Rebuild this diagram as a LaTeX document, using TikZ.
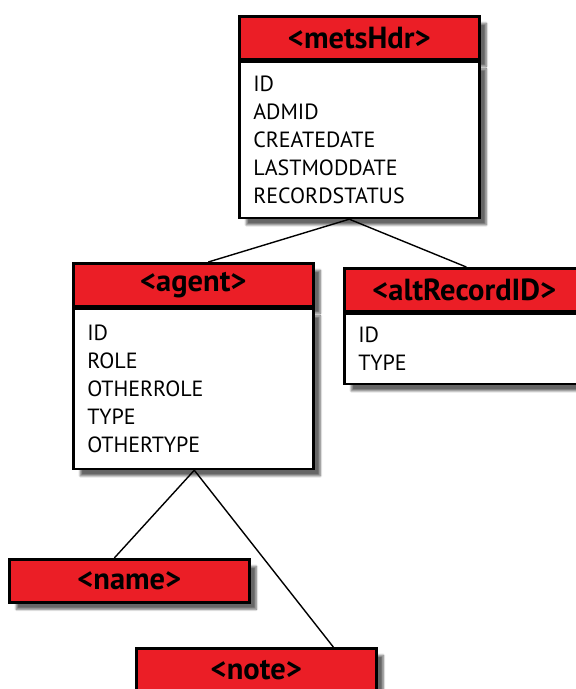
\documentclass[tikz,border=0pt]{standalone}
\usepackage{fontspec}
\setmainfont{PT Sans}
\usetikzlibrary{positioning, shadows.blur}
\definecolor{hdrred}{RGB}{235,30,38}

\begin{document}
\begin{tikzpicture}[
  x=1pt, y=-1pt,
  node distance=0pt,
  hdr/.style={rectangle, draw, line width=2.6pt, fill=hdrred, inner sep=0pt,
    minimum width=240pt, minimum height=43pt, anchor=north west,
    font=\fontsize{30.5}{30.5}\selectfont\bfseries,
    blur shadow={shadow xshift=7pt, shadow yshift=-7pt, shadow blur steps=10, shadow opacity=60}},
  attrs/.style={rectangle, draw, line width=2.6pt, fill=white, inner xsep=14pt, inner ysep=0pt,
    text width=212pt, align=left, font=\fontsize{22}{28}\selectfont,
    blur shadow={shadow xshift=7pt, shadow yshift=-7pt, shadow blur steps=10, shadow opacity=60}},
  link/.style={line width=1.4pt}
]
  \useasboundingbox (0,0) rectangle (576,689);

  \node[hdr] (metshdr) at (238,15) {<metsHdr>};
  \node[attrs, minimum height=156pt, below=of metshdr] (metsbody)
    {ID\\ADMID\\CREATEDATE\\LASTMODDATE\\RECORDSTATUS};

  \node[hdr] (agenthdr) at (72,262) {<agent>};
  \node[attrs, minimum height=160pt, below=of agenthdr] (agentbody)
    {ID\\ROLE\\OTHERROLE\\TYPE\\OTHERTYPE};

  \node[hdr] (althdr) at (343,267) {<altRecordID>};
  \node[attrs, minimum height=70pt, below=of althdr] (altbody)
    {ID\\TYPE};

  \node[hdr] (namehdr) at (8,558) {<name>};
  \node[hdr] (notehdr) at (135,647) {<note>};

  \draw[link] ([xshift=-10pt]metsbody.south) -- ([xshift=15pt]agenthdr.north);
  \draw[link] ([xshift=-10pt]metsbody.south) -- ([xshift=2pt]althdr.north);
  \draw[link] ([xshift=1pt]agentbody.south) -- ([xshift=-15pt]namehdr.north);
  \draw[link] ([xshift=1pt]agentbody.south) -- ([xshift=77pt]notehdr.north);
\end{tikzpicture}
\end{document}
